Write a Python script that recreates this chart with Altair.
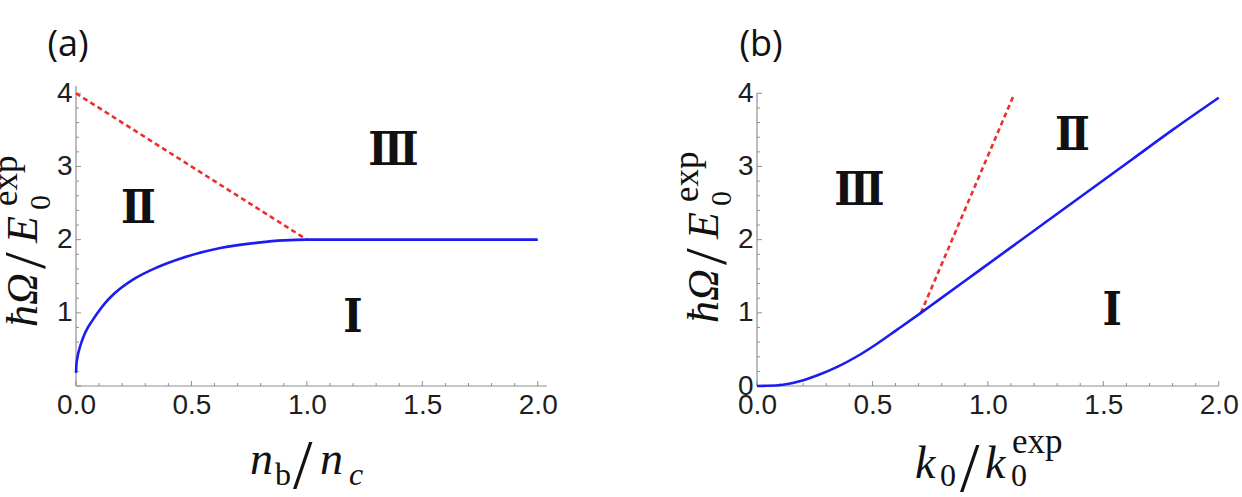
import altair as alt
import pandas as pd

# ---------------- data ----------------
a_blue_x = [0.0, 0.002, 0.005, 0.01, 0.015, 0.025, 0.036, 0.05, 0.07, 0.09, 0.125, 0.165, 0.25, 0.35, 0.46, 0.63, 0.79, 0.9, 1.0, 2.0]
a_blue_y = [0.18, 0.30, 0.37, 0.45, 0.51, 0.61, 0.70, 0.79, 0.89, 0.985, 1.13, 1.26, 1.46, 1.62, 1.75, 1.89, 1.96, 1.99, 2.0, 2.0]
a_red_x = [0.0, 1.0]
a_red_y = [4.0, 2.0]

b_blue_x = [0.0, 0.094, 0.18, 0.265, 0.35, 0.436, 0.52, 0.607, 0.71, 0.78, 0.95, 1.12, 1.29, 1.46, 1.63, 1.80, 2.0]
b_blue_y = [0.0, 0.01, 0.06, 0.15, 0.265, 0.41, 0.578, 0.77, 1.0, 1.16, 1.55, 1.94, 2.33, 2.72, 3.11, 3.50, 3.94]
b_red_x = [0.71, 1.11]
b_red_y = [1.0, 3.96]

a_reg_text = ["Ⅱ", "Ⅲ", "Ⅰ"]
a_reg_x = [0.27, 1.375, 1.2]
a_reg_y = [2.42, 3.21, 0.93]
b_reg_text = ["Ⅲ", "Ⅱ", "Ⅰ"]
b_reg_x = [0.444, 1.366, 1.538]
b_reg_y = [2.66, 3.42, 1.02]

x_major = [0.0, 0.5, 1.0, 1.5, 2.0]
x_minor = [0.1, 0.2, 0.3, 0.4, 0.6, 0.7, 0.8, 0.9, 1.1, 1.2, 1.3, 1.4, 1.6, 1.7, 1.8, 1.9]
y_major = [0, 1, 2, 3, 4]
y_minor = [0.2, 0.4, 0.6, 0.8, 1.2, 1.4, 1.6, 1.8, 2.2, 2.4, 2.6, 2.8, 3.2, 3.4, 3.6, 3.8]
a_y_labels = [1, 2, 3, 4]
b_y_labels = [0, 1, 2, 3, 4]

# ---------------- style ----------------
W, H = 471, 300
XDOM = [0, 2.04]
YDOM = [0, 4.1]
BLUE = "#1c1cf0"
RED = "#ee2e2e"
AXC = "#8f8f8f"
LABC = "#1e1e1e"
SERIF = "Liberation Serif"
SANS = "Liberation Sans"

xs = alt.Scale(domain=XDOM, nice=False, zero=False)
ys = alt.Scale(domain=YDOM, nice=False, zero=False)


def make_axis(values, fmt, pad):
    return alt.Axis(values=values, format=fmt, title=None, domain=False, ticks=False,
                    grid=False, labelFont=SANS, labelFontSize=28, labelColor=LABC,
                    labelPadding=pad, labelFlush=False, labelOverlap=False,
                    labelBound=False)


def piece(text, x, y, size, style="normal", angle=0, font=SERIF, align="left",
          baseline="alphabetic", weight="normal"):
    kw = dict(text=text, fontSize=size, font=font, fontStyle=style, align=align,
              baseline=baseline, fontWeight=weight, color="#111111")
    if angle:
        kw["angle"] = angle
    return alt.Chart(alt.Data(values=[{"k": 0}])).mark_text(**kw).encode(
        x=alt.value(x), y=alt.value(y))


def panel(bx, by, rx, ry, rtext, rxs, rys, ylabels, xaxis_end, yaxis_end, extras):
    XAX = make_axis(x_major, ".1f", 5)
    YAX = make_axis(ylabels, "d", 4)
    X = lambda f="x": alt.X(f + ":Q", scale=xs, axis=XAX)
    Y = lambda f="y": alt.Y(f + ":Q", scale=ys, axis=YAX)

    blue = pd.DataFrame({"x": bx, "y": by})
    red = pd.DataFrame({"x": rx, "y": ry})
    regions = pd.DataFrame({"x": rxs, "y": rys, "t": rtext})

    xline = alt.Chart(pd.DataFrame({"x": [0.0], "x2": [xaxis_end]})).mark_rule(
        color=AXC, strokeWidth=1.2).encode(x=X(), x2="x2:Q", y=alt.value(H))
    yline = alt.Chart(pd.DataFrame({"y": [0.0], "y2": [yaxis_end]})).mark_rule(
        color=AXC, strokeWidth=1.2).encode(y=Y(), y2="y2:Q", x=alt.value(0))

    xmaj = alt.Chart(pd.DataFrame({"x": [v for v in x_major if v <= xaxis_end]})).mark_rule(
        color=AXC, strokeWidth=1).encode(x=X(), y=alt.value(H), y2=alt.value(H - 5))
    xmin = alt.Chart(pd.DataFrame({"x": x_minor})).mark_rule(
        color=AXC, strokeWidth=1).encode(x=X(), y=alt.value(H), y2=alt.value(H - 3))
    ymaj = alt.Chart(pd.DataFrame({"y": y_major})).mark_rule(
        color=AXC, strokeWidth=1).encode(y=Y(), x=alt.value(0), x2=alt.value(5))
    ymin = alt.Chart(pd.DataFrame({"y": y_minor})).mark_rule(
        color=AXC, strokeWidth=1).encode(y=Y(), x=alt.value(0), x2=alt.value(3))

    blue_line = alt.Chart(blue).mark_line(
        color=BLUE, strokeWidth=2.6, interpolate="monotone").encode(x=X(), y=Y())
    red_line = alt.Chart(red).mark_line(
        color=RED, strokeWidth=2.6, strokeDash=[5, 3.5]).encode(x=X(), y=Y())

    reg = alt.Chart(regions).mark_text(
        font="DejaVu Serif Condensed", fontWeight="bold", fontSize=46, color="#111111",
        baseline="middle", align="center").encode(x=X(), y=Y(), text="t:N")

    layers = [xline, yline, xmaj, xmin, ymaj, ymin, red_line, blue_line, reg] + extras
    return alt.layer(*layers).properties(width=W, height=H)


def ytitle(dy=0):
    return [
        piece("ħΩ", -39, 241 + dy, 44, "italic", 270),
        piece("/", -31, 183 + dy, 60, "normal", 270),
        piece("E", -39, 157 + dy, 44, "italic", 270),
        piece("0", -26, 124 + dy, 30, "normal", 270),
        piece("exp", -59, 120 + dy, 35, "normal", 270),
    ]


extras_a = [
    piece("(a)", -8, -41, 36, font="Open Sans", align="center", baseline="middle"),
    piece("n", 174, 388, 46, "italic"),
    piece("b", 199, 399, 32),
    piece("/", 217, 402, 70),
    piece("n", 244, 388, 46, "italic"),
    piece("c", 273, 399, 32, "italic"),
] + ytitle(0)

extras_b = [
    piece("(b)", 4, -41, 36, font="Open Sans", align="center", baseline="middle"),
    piece("k", 158, 392, 46, "italic"),
    piece("0", 183, 400, 32),
    piece("/", 203, 405, 70),
    piece("k", 228, 392, 46, "italic"),
    piece("0", 254, 400, 32),
    piece("exp", 255, 367, 35),
] + ytitle(-4)

pa = panel(a_blue_x, a_blue_y, a_red_x, a_red_y, a_reg_text, a_reg_x, a_reg_y,
           a_y_labels, 2.04, 4.1, extras_a)
pb = panel(b_blue_x, b_blue_y, b_red_x, b_red_y, b_reg_text, b_reg_x, b_reg_y,
           b_y_labels, 2.0, 4.0, extras_b)

chart = alt.hconcat(pa, pb, spacing=210, bounds="flush").properties(
    autosize=alt.AutoSizeParams(type="none"),
    padding={"left": 76, "top": 86, "right": 1166, "bottom": 411},
    background="white",
).configure_view(stroke=None)

chart.save("out.html", embed_options={"renderer": "svg", "actions": False})
